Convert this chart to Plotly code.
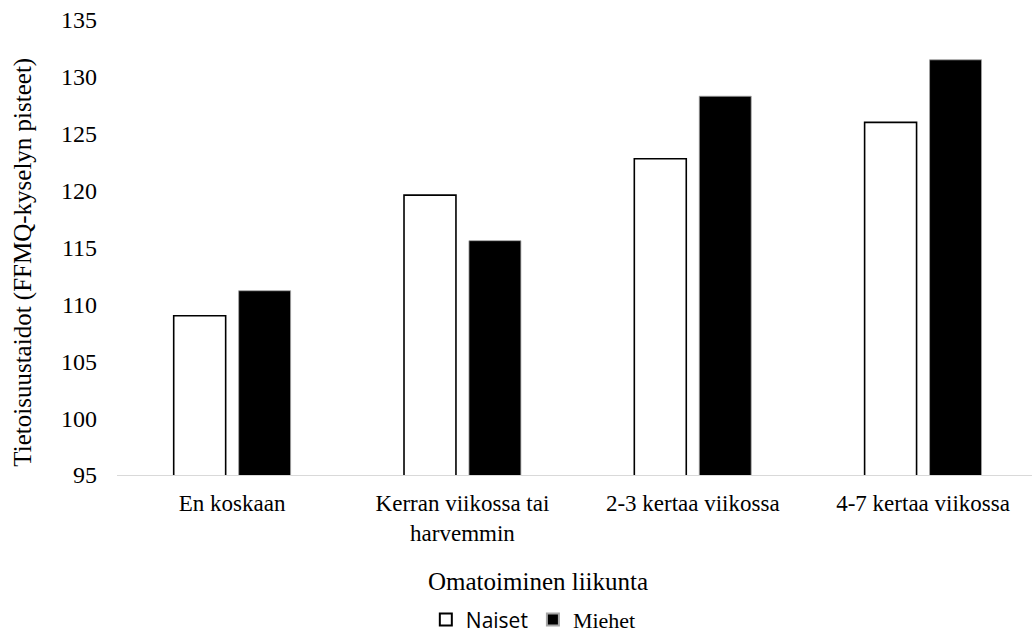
import plotly.graph_objects as go

# Omatoiminen liikunta -luokat ja FFMQ-keskiarvot sukupuolittain
categories = ["En koskaan", "Kerran viikossa tai<br>harvemmin",
              "2-3 kertaa viikossa", "4-7 kertaa viikossa"]
naiset = [109.0, 119.6, 122.8, 126.0]
miehet = [111.2, 115.6, 128.3, 131.5]
y_ticks = [95, 100, 105, 110, 115, 120, 125, 130, 135]

SERIF = "Liberation Serif"
SANS = "Open Sans"

fig = go.Figure()
fig.add_trace(go.Bar(
    x=categories, y=naiset,
    name=f"<span style='font-family:{SANS};font-size:21px'>Naiset</span>",
    marker=dict(color="white", line=dict(color="black", width=1.6)),
))
fig.add_trace(go.Bar(
    x=categories, y=miehet, name="Miehet",
    marker=dict(color="black", line=dict(color="#a6a6a6", width=0.8)),
))

fig.update_layout(
    width=1032, height=637,
    margin=dict(l=116.5, r=0, t=20, b=162, autoexpand=False),
    paper_bgcolor="white", plot_bgcolor="white",
    barmode="group", bargap=0.436, bargroupgap=0.2,
    font=dict(family=SERIF, size=24, color="black"),
    showlegend=True,
    legend=dict(
        orientation="h", x=0.455, xanchor="center", y=-0.318, yanchor="middle",
        font=dict(family=SERIF, size=22, color="black"), itemwidth=30,
        traceorder="normal", itemsizing="constant", tracegroupgap=0,
    ),
    xaxis=dict(
        type="category", range=[-0.5, 3.473],
        showline=True, linecolor="#d9d9d9", linewidth=1.2,
        ticks="", showgrid=False,
        tickfont=dict(family=SERIF, size=23, color="black"),
        ticklabelstandoff=7,
    ),
    yaxis=dict(
        range=[95, 135], tickvals=y_ticks, showgrid=False, zeroline=False,
        showline=False, ticks="",
        tickfont=dict(family=SERIF, size=24, color="black"),
        ticklabelstandoff=19,
    ),
    annotations=[
        dict(text="Tietoisuustaidot (FFMQ-kyselyn pisteet)", textangle=-90,
             xref="paper", yref="paper", x=-0.1032, y=0.468,
             xanchor="center", yanchor="middle", showarrow=False,
             font=dict(family=SERIF, size=25, color="black")),
        dict(text="Omatoiminen liikunta", xref="paper", yref="paper",
             x=0.4604, y=-0.233, xanchor="center", yanchor="middle",
             showarrow=False, font=dict(family=SERIF, size=25, color="black")),
    ],
)

fig.write_html("out.html")
